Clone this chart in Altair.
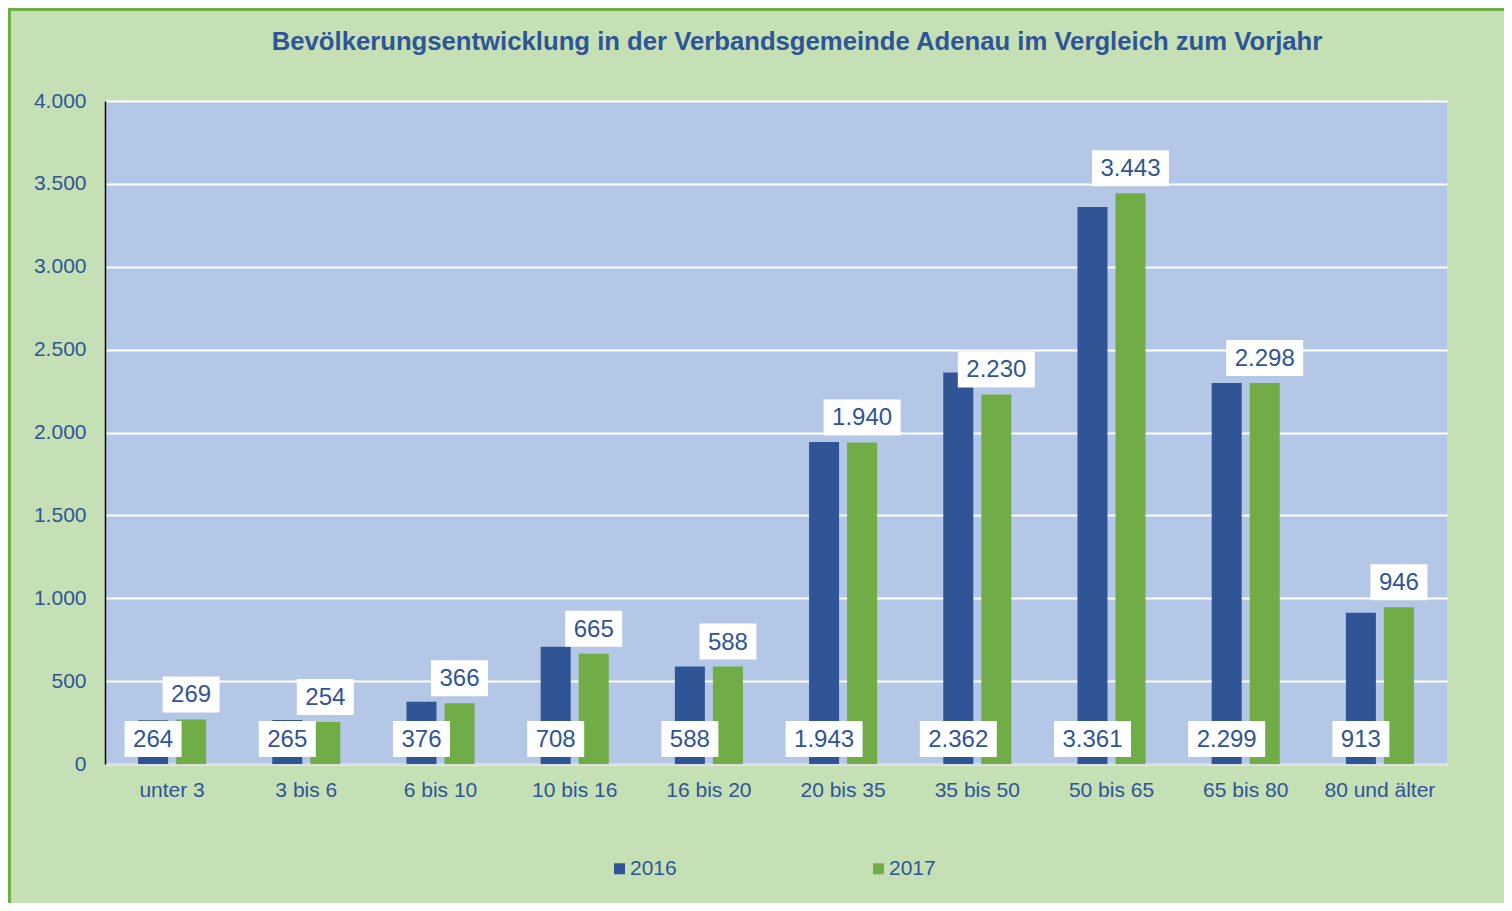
import altair as alt
import pandas as pd

categories = ["unter 3", "3 bis 6", "6 bis 10", "10 bis 16", "16 bis 20",
              "20 bis 35", "35 bis 50", "50 bis 65", "65 bis 80", "80 und älter"]
values_2016 = [264, 265, 376, 708, 588, 1943, 2362, 3361, 2299, 913]
values_2017 = [269, 254, 366, 665, 588, 1940, 2230, 3443, 2298, 946]
years = ["2016", "2017"]
y_ticks = [0, 500, 1000, 1500, 2000, 2500, 3000, 3500, 4000]

BLUE = "#2f5597"
GREEN = "#70ad47"
TEXT = "#2f5597"
BG = "#c5e0b4"
PLOT_BG = "#b4c7e7"
FONT = "Liberation Sans"

W, H = 1342, 663

rows = []
for cat, a, b in zip(categories, values_2016, values_2017):
    for yr, v in (("2016", a), ("2017", b)):
        label = f"{v:,}".replace(",", ".")
        hw = 28.5 if len(label) <= 3 else 38.5
        rows.append({
            "cat": cat, "year": yr, "value": v, "label": label,
            # 2016 labels sit at the base, 2017 labels above the bar
            "label_y": 0 if yr == "2016" else v,
            "box": f"M{-hw},-18L{hw},-18L{hw},18L{-hw},18Z",
        })
df = pd.DataFrame(rows)

x_enc = alt.X("cat:N", sort=categories,
              scale=alt.Scale(paddingInner=0.493, paddingOuter=0.2465),
              axis=alt.Axis(title=None, labelAngle=0, labelFontSize=21,
                            labelColor=TEXT, labelPadding=15, ticks=False,
                            domainColor="#d9d9d9", domainWidth=1.5, grid=False,
                            labelFont=FONT))
xoff_enc = alt.XOffset("year:N", sort=years,
                       scale=alt.Scale(paddingInner=0.2105, paddingOuter=0))
y_scale = alt.Scale(domain=[0, 4000], nice=False)

base = alt.Chart(df)

bars = base.mark_bar().encode(
    x=x_enc,
    xOffset=xoff_enc,
    y=alt.Y("value:Q", scale=y_scale,
            axis=alt.Axis(title=None, values=y_ticks,
                          labelExpr="replace(format(datum.value, ','), ',', '.')",
                          labelFontSize=21, labelColor=TEXT, labelPadding=19,
                          ticks=False, domainColor="black", domainWidth=1.5,
                          gridColor="white", gridWidth=2, labelFont=FONT)),
    color=alt.Color("year:N", sort=years,
                    scale=alt.Scale(domain=years, range=[BLUE, GREEN]),
                    legend=alt.Legend(orient="none", legendX=504, legendY=757,
                                      direction="horizontal", title=None,
                                      symbolType="square", symbolSize=121,
                                      symbolStrokeWidth=0,
                                      labelFontSize=21, labelColor=TEXT,
                                      labelFont=FONT, labelOffset=0,
                                      columnPadding=191, padding=0)),
)

boxes = base.mark_point(filled=True, fill="white", opacity=1, size=4,
                        strokeWidth=0, yOffset=-25).encode(
    x=alt.X("cat:N", sort=categories),
    xOffset=alt.XOffset("year:N", sort=years),
    y=alt.Y("label_y:Q", scale=y_scale),
    shape=alt.Shape("box:N", scale=None),
)

texts = base.mark_text(fontSize=24, color=TEXT, font=FONT, baseline="middle",
                       yOffset=-24).encode(
    x=alt.X("cat:N", sort=categories),
    xOffset=alt.XOffset("year:N", sort=years),
    y=alt.Y("label_y:Q", scale=y_scale),
    text="label:N",
)

frame = alt.Chart(alt.Data(values=[{}])).mark_rect(
    fill="transparent", stroke=GREEN, strokeWidth=3).encode(
    x=alt.value(-95.5), x2=alt.value(W + 90),
    y=alt.value(-91.5), y2=alt.value(H + 170),
)

chart = alt.layer(frame, bars, boxes, texts).properties(
    width=W, height=H,
    title=alt.TitleParams(
        text="Bevölkerungsentwicklung in der Verbandsgemeinde Adenau im Vergleich zum Vorjahr",
        fontSize=25.7, fontWeight="bold", color=TEXT, font=FONT,
        anchor="middle", frame="group", dx=21, baseline="alphabetic",
        offset=-68),
    padding={"left": 97, "top": 93, "right": 57, "bottom": 139},
    autosize=alt.AutoSizeParams(type="none"),
    background=BG,
).configure(font=FONT).configure_view(fill=PLOT_BG, strokeWidth=0)

chart.save("out.html", embed_options={"renderer": "svg", "actions": False})
